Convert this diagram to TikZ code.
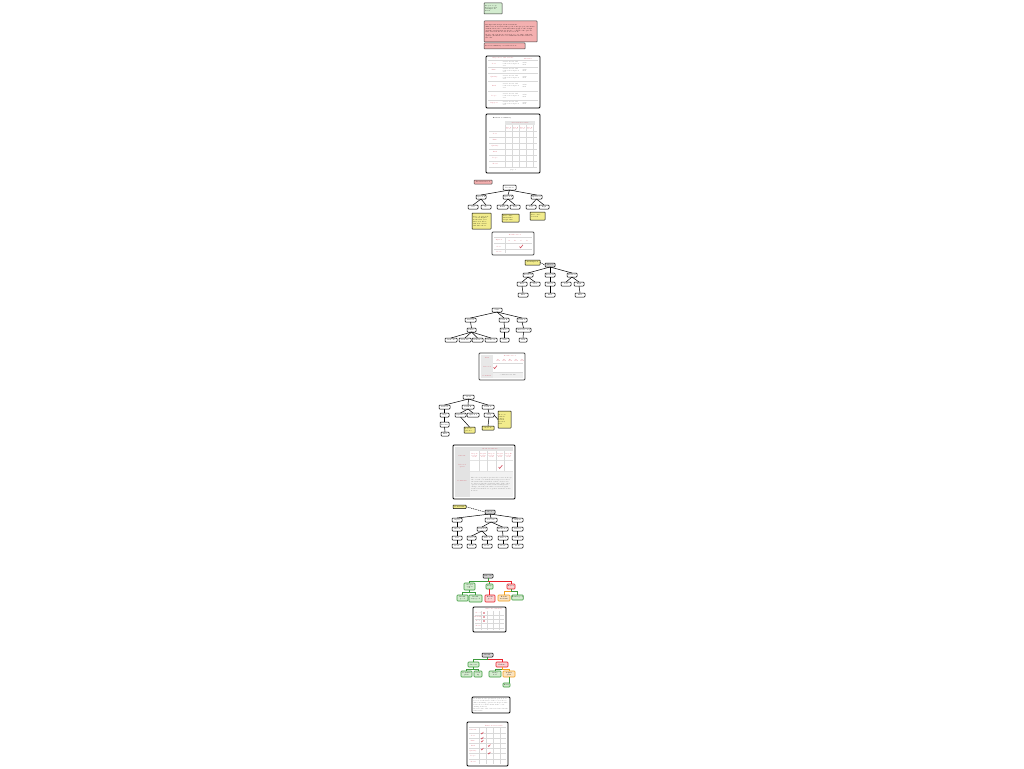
\documentclass[tikz,border=0pt]{standalone}
\usetikzlibrary{calc}
\definecolor{pk}{HTML}{F4B0B0}
\definecolor{pkt}{HTML}{D04858}
\definecolor{yl}{HTML}{F2EC8C}
\definecolor{gf}{HTML}{D3ECCF}
\definecolor{gd}{HTML}{3C9A3C}
\definecolor{rd}{HTML}{E8202A}
\definecolor{rf}{HTML}{F9D2D2}
\definecolor{og}{HTML}{F2A01E}
\definecolor{of}{HTML}{FBE3C0}
\definecolor{gl}{HTML}{D4D4D4}
\newcommand\bx[7]{\node[#2,minimum width={(#5-#3)*1pt},minimum height={(#6-#4)*1pt}] (#1) at ({(#3+#5)/2},{(#4+#6)/2}) {#7};}
\tikzset{
 tf/.style={font=\fontsize{1.6}{1.9}\selectfont},
 nd/.style={draw,line width=0.5pt,rounded corners=0.8pt,fill=white,inner sep=0pt,outer sep=0pt,tf,align=center},
 gnode/.style={nd,draw=gd,fill=gf,line width=0.6pt},
 rnode/.style={nd,draw=rd,fill=rf,line width=0.6pt},
 onode/.style={nd,draw=og,fill=of,line width=0.6pt},
 hnode/.style={nd,fill=gray!35},
 note/.style={nd,fill=yl,rounded corners=0.4pt},
 pbox/.style={nd,fill=pk,draw=black!75,rounded corners=0.6pt},
 gbox/.style={nd,fill=gf,draw=black!80,rounded corners=0.4pt},
 tbl/.style={draw=black,line width=0.9pt,rounded corners=1pt,fill=white,inner sep=0pt,outer sep=0pt},
 tblg/.style={draw=black!70,line width=0.8pt,rounded corners=1pt,fill=white,inner sep=0pt,outer sep=0pt},
 ed/.style={line width=0.5pt},
 tx/.style={inner sep=0pt,font=\fontsize{1.5}{1.8}\selectfont,align=left},
 ptx/.style={tx,text=pkt,align=center},
 gtx/.style={tx,text=black!60},
 btx/.style={tx,text=black},
 gline/.style={gray!30,line width=0.25pt},
 chk/.style={pkt,line width=0.6pt},
}
\begin{document}
\begin{tikzpicture}[x=1pt,y=-1pt]
\useasboundingbox (0,0) rectangle (1024,768);
\fill[white] (0,0) rectangle (1024,768);

% ---------------- top notes
\bx{top1}{gbox}{484}{3}{502}{14}{}
\node[btx,text width=16pt] at (top1) {Project scope\\ key notes and\\ assumptions\\ list v1};
\bx{top2}{pbox}{484}{21}{537}{42}{}
\node[btx,text width=50pt] at (top2) {Background and problem statement\\[0.4pt]
This section describes the goals of the project, the main stakeholders, the
constraints that apply to the design and the criteria that are used to compare
the options that follow in the decision trees below.\\[0.4pt]
Notes: all options are assessed on cost, time, risk and quality; the final
choice is summarised in the tables at the end.};
\bx{top3}{pbox}{484}{43}{525}{49}{}
\node[btx,text width=39pt] at (top3) {Decision summary: see tables below};

% ---------------- table 1
\bx{t1}{tbl}{486}{56}{540}{108}{}
\node[ptx] at (503,58.5) {Objectives and criteria};
\node[ptx] at (528,58.5) {Measures};
\draw[gline] (488,60.5) -- (538,60.5);
\foreach \y/\l in {64/Cost,70.5/Time,77.5/Quality,86/Risk,96/Scope,103.5/Support}{
  \node[ptx] at (494,\y) {\l};
  \node[gtx,text width=17pt] at (511,\y) {criterion text and a short description of it};
  \node[gtx,text width=9pt] at (527,\y) {value\\ unit};
}
\foreach \y in {67.5,73.5,81.5,91,100.5}{\draw[gline] (488,\y) -- (538,\y);}

% ---------------- table 2
\bx{t2}{tbl}{486}{114}{540}{173}{}
\node[btx] at (502,118.5) {Evaluation summary};
\fill[gl!60] (505,120.5) rectangle (535,124.5);
\node[ptx] at (520,122.5) {Assessment results};
\foreach \x/\l in {508.5/Opt A,515.5/Opt B,522.5/Opt C,529.5/Opt D}{\node[ptx] at (\x,128.5) {\l\\ score};}
\foreach \y/\l in {134/Cost,140/Time,146/Quality,152/Risk,158/Scope,164/Total}{\node[ptx] at (495,\y) {\l};}
\foreach \y in {131.5,137,143,149,155,161,167}{\draw[gline] (489,\y) -- (537,\y);}
\foreach \x in {505,512,519,526,533}{\draw[gline] (\x,125) -- (\x,167);}
\node[gtx] at (513,170) {page 1};

% ---------------- tree 1
\bx{lab1}{pbox}{474}{180}{492}{184}{Decision tree 1}
\bx{r1}{nd}{503}{185}{516}{190}{Decision}
\bx{a1}{nd}{476}{195}{486}{199}{Option A}
\bx{b1}{nd}{503}{195}{513}{199}{Option B}
\bx{c1}{nd}{531}{195}{542}{199}{Option C}
\bx{a11}{nd}{468}{205}{478}{209}{Yes}
\bx{a12}{nd}{481}{205}{491}{209}{No}
\bx{b11}{nd}{497}{205}{508}{209}{Build}
\bx{b12}{nd}{510}{205}{520}{209}{Buy}
\bx{c11}{nd}{526}{205}{536}{209}{Low}
\bx{c12}{nd}{539}{205}{549}{209}{High}
\foreach \p/\c in {r1/a1,r1/b1,r1/c1,a1/a11,a1/a12,b1/b11,b1/b12,c1/c11,c1/c12}{\draw[ed] (\p.south) -- (\c.north);}
\bx{n11}{note}{472}{213}{491}{229}{}
\node[btx,text width=17pt] at (n11) {Note on option A:\\ costs are higher\\ in the first year\\ but lower later;\\ risk is moderate\\ and time short.};
\bx{n12}{note}{502}{214}{519}{222}{}
\node[btx,text width=15pt] at (n12) {Note on B:\\ build takes\\ longer time};
\bx{n13}{note}{530}{212}{545}{220}{}
\node[btx,text width=13pt] at (n13) {Note on C:\\ low risk};

% ---------------- table 3
\bx{t3}{tblg}{492}{232}{534}{255}{}
\node[ptx] at (515,235.3) {Results tree 1};
\draw[gline] (494,237.5) -- (532,237.5);
\foreach \y/\l in {240.5/Option,246.5/Score,251.5/Notes}{\node[ptx] at (499,\y) {\l};}
\foreach \x/\l in {509/A,515/B,521/C,527/D}{\node[ptx] at (\x,240.5) {\l};}
\draw[gline] (505,238) -- (505,253);
\foreach \y in {243,249}{\draw[gline] (494,\y) -- (532,\y);}
\draw[chk] (519.5,246.5) -- (520.6,247.8) -- (523,244.8);

% ---------------- tree 2
\bx{n21}{note}{525}{260}{540}{265}{Assumption}
\bx{r2}{hnode}{545}{263}{555}{267}{Choice}
\draw[ed,dashed,dash pattern=on 1pt off 0.8pt] (n21.east) -- (r2.west);
\bx{a2}{nd}{523}{273}{533}{277}{Route A}
\bx{b2}{nd}{545}{273}{555}{277}{Route B}
\bx{c2}{nd}{567}{273}{577}{277}{Route C}
\bx{a21}{nd}{517}{282}{527}{286}{Fast}
\bx{a22}{nd}{530}{282}{540}{286}{Slow}
\bx{b21}{nd}{545}{282}{555}{286}{Direct}
\bx{c21}{nd}{561}{282}{571}{286}{Low}
\bx{c22}{nd}{574}{282}{584}{286}{High}
\bx{a211}{nd}{518}{293}{528}{297}{End}
\bx{b211}{nd}{545}{293}{555}{297}{End}
\bx{c221}{nd}{575}{293}{585}{297}{End}
\foreach \p/\c in {r2/a2,r2/b2,r2/c2,a2/a21,a2/a22,b2/b21,c2/c21,c2/c22,a21/a211,b21/b211,c22/c221}{\draw[ed] (\p.south) -- (\c.north);}

% ---------------- tree 3
\bx{r3}{nd}{492}{308}{502}{312}{Start}
\bx{a3}{nd}{465}{318}{476}{322}{Plan A}
\bx{b3}{nd}{499}{318}{509}{322}{Plan B}
\bx{c3}{nd}{517}{318}{527}{322}{Plan C}
\bx{a31}{nd}{467}{328}{476}{332}{Phase}
\bx{b31}{nd}{500}{328}{509}{332}{Phase}
\bx{c31}{nd}{516}{328}{531}{332}{Phase two step}
\bx{a311}{nd}{445}{338}{457}{342}{Task one}
\bx{a312}{nd}{459}{338}{471}{342}{Task two}
\bx{a313}{nd}{472}{338}{483}{342}{Task three}
\bx{a314}{nd}{485}{338}{497}{342}{Task four}
\bx{b311}{nd}{500}{338}{509}{342}{Task}
\bx{c311}{nd}{519}{338}{527}{342}{Task}
\foreach \p/\c in {r3/a3,r3/b3,r3/c3,a3/a31,b3/b31,c3/c31,a31/a311,a31/a312,a31/a313,a31/a314,b31/b311,c31/c311}{\draw[ed] (\p.south) -- (\c.north);}

% ---------------- table 4
\bx{t4}{tblg}{479}{353}{525}{380}{}
\fill[gray!18] (481,355) rectangle (493,378);
\node[ptx] at (510,356) {Results tree 3};
\foreach \y/\l in {357.5/Plan,366.5/Selected,375.5/Comment}{\node[ptx] at (487,\y) {\l};}
\foreach \x/\l in {498/A1,504/A2,510/B1,516/C1,522/C2}{\node[ptx] at (\x,360.5) {\l\\ task};}
\foreach \y in {363.5,372}{\draw[gline] (493,\y) -- (523,\y);}
\draw[chk] (493.6,367.3) -- (494.6,368.6) -- (497,365.6);
\fill[gray!12] (493,372.5) rectangle (523,378);
\node[gtx] at (508,375.3) {comment text line};

% ---------------- tree 4
\bx{r4}{nd}{463}{395}{474}{399}{Goal}
\bx{a4}{nd}{439}{405}{450}{409}{Path A}
\bx{b4}{nd}{462}{405}{474}{409}{Path B}
\bx{c4}{nd}{482}{405}{494}{409}{Path C}
\bx{a41}{nd}{440}{413}{449}{417}{Step}
\bx{b41}{nd}{455}{413}{466}{417}{Option 1}
\bx{b42}{nd}{467}{413}{479}{417}{Option 2}
\bx{c41}{nd}{484}{413}{494}{417}{Step}
\bx{a411}{nd}{440}{422}{449}{427}{Review}
\bx{a4111}{nd}{441}{432}{449}{436}{End}
\bx{n41}{note}{464}{427}{475}{433}{}
\node[btx,text width=10pt] at (n41) {Note on\\ option 1};
\bx{n42}{note}{482}{426}{494}{430}{Note C}
\bx{n43}{note}{498}{411}{511}{428}{}
\node[btx,text width=12pt] at (n43) {Note on\\ path C:\\ longer\\ review\\ needed\\ first};
\foreach \p/\c in {r4/a4,r4/b4,r4/c4,a4/a41,b4/b41,b4/b42,c4/c41,a41/a411,a411/a4111,b41/n41,c41/n42}{\draw[ed] (\p.south) -- (\c.north);}
\draw[ed] (c41.east) -- (n43.west);

% ---------------- table 5
\bx{t5}{tbl}{453}{445}{515}{499}{}
\fill[gray!22] (455,447) rectangle (513,497);
\node[ptx] at (490,449) {Work breakdown};
\fill[white] (470,451) rectangle (513,460);
\fill[white] (470,461) rectangle (513,471);
\fill[gray!10] (470,472) rectangle (513,497);
\foreach \x/\l in {474.5/Step A,483/Step B,491.5/Step C,500/Step D,508.5/Step E}{\node[ptx] at (\x,455.5) {\l\\ review\\ item};}
\foreach \x in {479,487.5,496,504.5}{\draw[gline] (\x,451) -- (\x,471);}
\foreach \y/\l in {455.5/Criteria,466/Selected\\ option,481/Comments}{\node[ptx] at (462,\y) {\l};}
\draw[chk] (498.6,467) -- (499.7,468.4) -- (502.3,465.2);
\node[gtx,text width=41pt] at (491.5,484.5) {The selected path is preferred because it keeps the overall cost within the budget, it reduces the main risks identified earlier, and it can be delivered in the available time. The other options remain possible if the assumptions change, and they should be reviewed again at the next milestone together with the stakeholders.};

% ---------------- tree 5
\bx{n51}{note}{453}{505}{466}{508.5}{Constraint}
\bx{r5}{hnode}{485}{510}{495}{514}{Root}
\draw[ed,dashed,dash pattern=on 1pt off 0.8pt] (n51.east) -- (r5.west);
\bx{a5}{nd}{452}{518}{462}{522}{Input}
\bx{b5}{nd}{485}{518}{497}{522}{Process}
\bx{c5}{nd}{512}{518}{523}{522}{Output}
\bx{a51}{nd}{452}{527}{462}{531}{Check}
\bx{b51}{nd}{477}{527}{487}{531}{Branch 1}
\bx{b52}{nd}{497}{527}{508}{531}{Branch 2}
\bx{c51}{nd}{512}{527}{523}{531}{Deliver}
\bx{a511}{nd}{452}{536}{462}{540}{Test}
\bx{b511}{nd}{467}{536}{476}{540}{Case 1}
\bx{b512}{nd}{482}{536}{492}{540}{Case 2}
\bx{b521}{nd}{498}{536}{508}{540}{Case 3}
\bx{c511}{nd}{512}{536}{523}{540}{Accept}
\bx{a5111}{nd}{452}{544}{462}{548}{Done}
\bx{b5111}{nd}{467}{544}{476}{548}{Done}
\bx{b5121}{nd}{482}{544}{492}{548}{Done}
\bx{b5211}{nd}{498}{544}{508}{548}{Done}
\bx{c5111}{nd}{512}{544}{523}{548}{Done}
\foreach \p/\c in {r5/a5,r5/b5,r5/c5,a5/a51,b5/b51,b5/b52,c5/c51,a51/a511,b51/b511,b51/b512,b52/b521,c51/c511,a511/a5111,b511/b5111,b512/b5121,b521/b5211,c511/c5111}{\draw[ed] (\p.south) -- (\c.north);}

% ---------------- tree 6 (coloured)
\bx{r6}{hnode}{483}{574}{493}{578}{Outcome}
\bx{a6}{gnode}{464}{583}{475}{590}{Accept\\ option\\ A}
\bx{b6}{gnode}{486}{584}{493}{589}{Keep}
\bx{c6}{rnode}{507}{584}{515}{589}{Reject}
\bx{a61}{gnode}{457}{595}{468}{601}{Result\\ good}
\bx{a62}{gnode}{469}{595}{482}{602}{Result\\ very good}
\bx{b61}{rnode}{485}{595}{495}{602}{Result\\ poor}
\bx{c61}{onode}{498}{595}{510}{601}{Result\\ medium}
\bx{c62}{gnode}{512}{595}{523}{600}{Result good}
\draw[ed,gd,line width=0.6pt] (r6.south) -- ++(0,3) -| (a6.north);
\draw[ed,gd,line width=0.6pt] (r6.south) -- ++(0,3) -| (b6.north);
\draw[ed,rd,line width=0.6pt] (r6.south) ++(0,3) -| (c6.north);
\draw[ed,gd,line width=0.6pt] (a6.south) -- ++(0,2.5) -| (a61.north);
\draw[ed,gd,line width=0.6pt] (a6.south) -- ++(0,2.5) -| (a62.north);
\draw[ed,rd,line width=0.6pt] (b6.south) -- (b6.south |- b61.north);
\draw[ed,og,line width=0.6pt] (c6.south) -- ++(0,2.5) -| (c61.north);
\draw[ed,gd,line width=0.6pt] (c6.south) -- ++(0,2.5) -| (c62.north);

% ---------------- table 6
\bx{t6}{tbl}{473}{607}{506}{632}{}
\node[ptx] at (494,609.5) {Outcome summary};
\foreach \y/\l in {613/Good,617/Medium,621/Poor,626/Total}{\node[ptx] at (478,\y) {\l};}
\foreach \y in {615,619,623,628.5}{\draw[gline] (475,\y) -- (504,\y);}
\foreach \x in {481,487,493,499}{\draw[gline] (\x,611) -- (\x,630);}
\foreach \y in {613,617,621}{\fill[pkt] (484,\y) circle (0.8);}

% ---------------- tree 7 (coloured)
\bx{r7}{hnode}{482}{653}{493}{657}{Result}
\bx{a7}{gnode}{468}{662}{479}{667}{Success}
\bx{b7}{rnode}{496}{662}{508}{667}{Failure}
\bx{a71}{gnode}{461}{671}{472}{677}{Continue\\ plan}
\bx{a72}{gnode}{474}{671}{482}{677}{Scale\\ up}
\bx{b71}{gnode}{489}{671}{501}{677}{Retry\\ now}
\bx{b72}{onode}{503}{671}{515}{677}{Adjust\\ plan}
\bx{b721}{gnode}{503}{683}{510}{687}{Retry}
\draw[ed,gd,line width=0.6pt] (r7.south) -- ++(0,2.5) -| (a7.north);
\draw[ed,rd,line width=0.6pt] (r7.south) ++(0,2.5) -| (b7.north);
\draw[ed,gd,line width=0.6pt] (a7.south) -- ++(0,2) -| (a71.north);
\draw[ed,gd,line width=0.6pt] (a7.south) -- ++(0,2) -| (a72.north);
\draw[ed,gd,line width=0.6pt] (b7.south) -- ++(0,2) -| (b71.north);
\draw[ed,og,line width=0.6pt] (b7.south) -- ++(0,2) -| (b72.north);
\draw[ed,gd,line width=0.6pt] (b72.south) -- (b72.south |- b721.north);

% ---------------- text box
\bx{tb}{tbl}{472}{697}{510}{713}{}
\node[gtx,text width=35pt] at (tb) {Conclusion: the preferred option is selected on the basis of the scores above.\\[0.8pt]
The remaining options are kept as fall-back choices if the main risks occur during delivery.\\[0.8pt]
Review date and owner are listed in the final table.};

% ---------------- table 7
\bx{t7}{tbl}{467}{722}{508}{766}{}
\node[ptx] at (494,725.5) {Final decision table};
\foreach \y/\l in {730/Criteria,736/Cost,741/Time,746/Risk,751/Quality,756/Scope,762/Total}{\node[ptx] at (473,\y) {\l};}
\foreach \y in {727.5,733,738.5,743.5,748.5,753.5,759}{\draw[gline] (469,\y) -- (506,\y);}
\foreach \x in {479,486,493,500}{\draw[gline] (\x,727.5) -- (\x,764);}
\foreach \x/\y in {482/733,482/738,482/741,489/745.5,482/749,489/753}{\draw[chk,line width=0.5pt] (\x-1,\y) -- (\x-0.2,\y+1) -- (\x+1.3,\y-1);}
\end{tikzpicture}
\end{document}
